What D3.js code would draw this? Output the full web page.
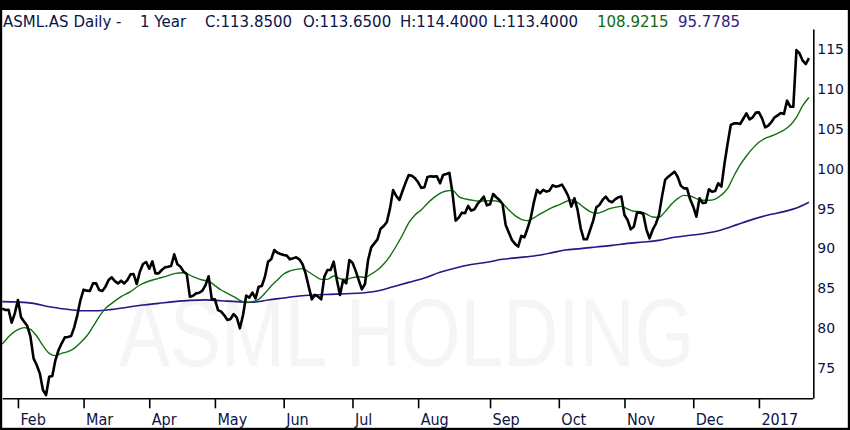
<!DOCTYPE html>
<html><head><meta charset="utf-8">
<script src="https://cdn.jsdelivr.net/npm/d3@7"></script>
<style>
html,body{margin:0;padding:0;background:#fff;}
svg{display:block;}
text{white-space:pre;}
</style>
</head><body>
<svg id="chart" width="850" height="430"></svg>
<script>
// ---- data (trading-day index 0 = 1 Feb 2016) ----
const firstDay = -5;
const close = [
  82.44, 82.27, 82.31, 80.68, 81.85, 83.52, 81.35, 80.81, 80.26, 78.93,
  76.21, 75.38, 74.33, 72.24, 71.61, 73.91, 74.0, 76.0, 77.26, 78.1,
  78.84, 78.89, 79.0, 80.1, 81.64, 83.52, 84.82, 84.7, 84.65, 85.61,
  85.61, 84.78, 84.65, 85.2, 86.03, 86.37, 85.9, 85.61, 85.95, 85.61,
  86.03, 86.74, 86.78, 85.53, 87.08, 88.04, 88.29, 87.45, 88.37, 86.87,
  86.87, 87.29, 87.62, 87.7, 87.79, 89.25, 88.0, 87.7, 87.08, 86.78,
  83.94, 84.07, 84.36, 84.44, 84.7, 85.4, 86.5, 83.61, 83.61, 82.27,
  82.07, 81.61, 81.02, 81.15, 81.77, 81.31, 79.98, 81.65, 84.07, 83.82,
  84.45, 83.74, 85.2, 85.28, 86.45, 88.33, 88.63, 89.8, 89.46, 89.3,
  89.17, 89.09, 88.63, 88.75, 88.88, 88.63, 88.04, 86.87, 85.2, 83.61,
  84.16, 83.95, 83.61, 86.45, 87.29, 87.29, 88.33, 86.03, 84.16, 86.03,
  85.62, 88.54, 88.21, 87.21, 86.03, 84.87, 85.53, 88.54, 90.13, 90.63,
  91.13, 92.47, 92.81, 93.31, 95.02, 97.32, 96.57, 96.07, 97.2, 98.25,
  99.2, 99.12, 98.79, 98.29, 97.58, 97.66, 98.96, 99.04, 99.0, 99.04,
  98.16, 99.21, 99.33, 99.46, 96.91, 93.48, 93.86, 94.48, 94.4, 95.32,
  94.73, 94.9, 95.57, 95.99, 96.49, 95.4, 95.53, 96.82, 96.41, 96.07,
  95.57, 92.94, 91.98, 91.06, 90.56, 90.22, 91.56, 91.39, 92.52, 93.77,
  95.74, 97.33, 96.91, 97.33, 97.12, 97.24, 97.91, 97.74, 97.83, 97.99,
  97.33, 96.57, 95.24, 96.28, 94.82, 92.52, 91.14, 91.14, 92.31, 93.48,
  95.15, 95.45, 96.07, 96.49, 95.97, 95.78, 96.15, 96.4, 96.49, 94.19,
  93.56, 92.39, 92.73, 94.48, 94.48, 94.31, 92.39, 91.26, 92.31, 93.06,
  94.14, 96.49, 98.58, 98.99, 99.29, 99.62, 98.99, 97.87, 97.53, 97.53,
  96.15, 95.23, 93.98, 96.28, 95.69, 95.73, 97.41, 97.11, 97.2, 98.16,
  97.74, 100.66, 103.17, 105.47, 105.68, 105.68, 105.6, 106.26, 106.93, 106.18,
  106.43, 107.02, 107.06, 106.31, 105.18, 105.39, 105.85, 106.43, 106.68, 106.97,
  106.85, 108.52, 107.77, 107.77, 114.87, 114.45, 113.54, 113.12, 113.85
];

const fastDays = [-5,-3,0,2,4,6,8,10,12,14,16,18,20,22,24,26,28,30,33,36,39,42,45,48,50,53,56,59,61,63,65,67,69,71,73,75,77,79,81,83,85,87,89,91,93,95,97,99,101,103,105,107,109,111,113,115,117,119,121,123,125,127,129,131,133,135,137,139,141,143,145,147,149,151,153,155,157,159,161,163,165,167,169,171,173,175,177,179,181,183,185,187,189,191,193,195,197,199,201,203,205,207,209,211,213,215,217,219,221,223,225,227,229,231,233,235,237,239,241,243,245,247,249,251,253];
const fastMA = [78.0,78.93,79.8,80.06,79.85,79.01,77.8,76.84,76.55,76.84,77.05,77.47,78.18,79.01,80.18,81.44,82.48,83.11,83.94,84.57,85.41,85.91,86.24,86.58,86.83,86.95,86.45,86.03,85.9,85.33,84.78,84.37,83.95,83.49,83.2,83.32,83.61,84.37,85.28,86.04,86.79,87.17,87.37,87.46,87.04,86.54,86.12,86.12,86.54,86.2,86.12,86.33,86.45,86.37,86.79,87.29,88.04,89.04,90.3,91.68,93.2,94.19,94.82,95.65,96.36,96.91,97.2,97.28,96.49,96.2,96.07,95.95,95.95,95.99,95.95,95.65,94.82,94.11,93.65,93.48,93.82,94.32,94.73,95.15,95.45,95.82,96.07,95.74,95.15,94.61,94.4,94.61,94.95,95.15,95.27,94.94,94.65,94.61,94.31,93.94,93.89,94.61,95.53,96.24,96.65,96.57,96.24,96.03,96.03,96.19,96.7,97.53,99.08,100.46,101.58,102.54,103.3,103.8,104.09,104.43,104.84,105.43,106.43,107.89,108.92];

const slowDays = [-5,0,5,10,15,20,25,30,35,40,45,50,55,60,65,70,75,80,85,90,95,100,105,110,115,120,125,130,135,140,145,150,155,160,165,170,175,180,185,190,195,200,205,210,215,220,225,230,235,240,245,250,253];
const slowMA = [83.32,83.27,83.11,82.69,82.4,82.19,82.19,82.35,82.61,82.9,83.11,83.32,83.48,83.55,83.44,83.32,83.24,83.53,83.78,84.03,84.16,84.24,84.32,84.41,84.66,85.2,85.74,86.3,87.0,87.55,87.97,88.26,88.63,88.84,89.05,89.39,89.8,89.97,90.18,90.38,90.63,90.8,91.01,91.39,91.64,91.89,92.31,92.98,93.64,94.19,94.61,95.23,95.78];

const monthLabels = ["Feb","Mar","Apr","May","Jun","Jul","Aug","Sep","Oct","Nov","Dec","2017"];
const monthStartDays = [0,21,42,63,85,107,128,151,173,194,216,237];
const priceTicks = [75,80,85,90,95,100,105,110,115];

const titleParts = ["ASML.AS Daily -", "1 Year", "C:113.8500", "O:113.6500", "H:114.4000", "L:113.4000", "108.9215", "95.7785"];
const watermark = "ASML HOLDING";

// ---- drawing ----
const svg = d3.select("#chart");
const W = 850, H = 430;
const navy = "#0c1445";
svg.append("rect").attr("width", W).attr("height", H).attr("fill", "#fff");

const x = d3.scaleLinear().domain([-5, 254.2]).range([2.3, 812.7]);
const y = d3.scaleLinear().domain([71.24, 117.51]).range([398, 29]);

// watermark
svg.append("text").attr("transform", "translate(119,366) scale(1,1.25)")
  .attr("font-family", "Liberation Sans, Arial, sans-serif").attr("font-size", 76.5)
  .attr("fill", "#f5f5f5").text(watermark);

// lines
const closeData = close.map((v, k) => [firstDay + k, v]);
const fastData = fastDays.map((d, k) => [d, fastMA[k]]);
const slowData = slowDays.map((d, k) => [d, slowMA[k]]);

const lineStraight = d3.line().x(d => x(d[0])).y(d => y(d[1]));
const lineSmooth = d3.line().x(d => x(d[0])).y(d => y(d[1])).curve(d3.curveMonotoneX);

svg.append("path").datum(slowData).attr("d", lineSmooth)
  .attr("fill", "none").attr("stroke", "#2e1287").attr("stroke-width", 1.6);
svg.append("path").datum(fastData).attr("d", lineSmooth)
  .attr("fill", "none").attr("stroke", "#107010").attr("stroke-width", 1.4);
svg.append("path").datum(closeData).attr("d", lineStraight)
  .attr("fill", "none").attr("stroke", "#000").attr("stroke-width", 2.6)
  .attr("stroke-linejoin", "round");

// right axis
const yAxis = d3.axisRight(y).tickValues(priceTicks).tickSize(0).tickPadding(4).tickFormat(d3.format("d"));
const gy = svg.append("g").attr("transform", "translate(813.3,0)").call(yAxis);
gy.select(".domain").attr("stroke", "#000").attr("stroke-width", 1.6);
gy.selectAll("text").attr("font-family", "DejaVu Sans, Verdana, sans-serif")
  .attr("font-size", 14).attr("fill", navy);

// bottom axis
const xAxis = d3.axisBottom(x).tickValues(monthStartDays).tickSize(10).tickSizeOuter(0)
  .tickFormat((d, k) => monthLabels[k]);
const gx = svg.append("g").attr("transform", "translate(0,398.3)").call(xAxis);
gx.select(".domain").attr("stroke", "#000").attr("stroke-width", 1.6);
gx.selectAll(".tick line").attr("stroke", "#000").attr("stroke-width", 1.6);
gx.selectAll("text").attr("font-family", "DejaVu Sans Condensed, DejaVu Sans, sans-serif")
  .attr("font-size", 16).attr("fill", navy).attr("text-anchor", "start")
  .attr("x", 2).attr("y", 15).attr("dy", "0.71em");

// frame
svg.append("rect").attr("x", 0).attr("y", 0).attr("width", W).attr("height", 10).attr("fill", "#000");
svg.append("rect").attr("x", 0).attr("y", 0).attr("width", 2.2).attr("height", H).attr("fill", "#000");
svg.append("rect").attr("x", 847.8).attr("y", 0).attr("width", 2.2).attr("height", H).attr("fill", "#000");
svg.append("rect").attr("x", 0).attr("y", 427.8).attr("width", W).attr("height", 2.2).attr("fill", "#000");

// title
const titleX = [3, 140, 205, 303, 400, 493, 597, 678];
const titleCol = [navy, navy, navy, navy, navy, navy, "#0f6b10", "#34207a"];
const title = svg.append("text").attr("y", 26.5)
  .attr("font-family", "DejaVu Sans, Verdana, sans-serif").attr("font-size", 15);
titleParts.forEach((t, k) => {
  title.append("tspan").attr("x", titleX[k]).attr("fill", titleCol[k]).text(t);
});
</script>
</body></html>
